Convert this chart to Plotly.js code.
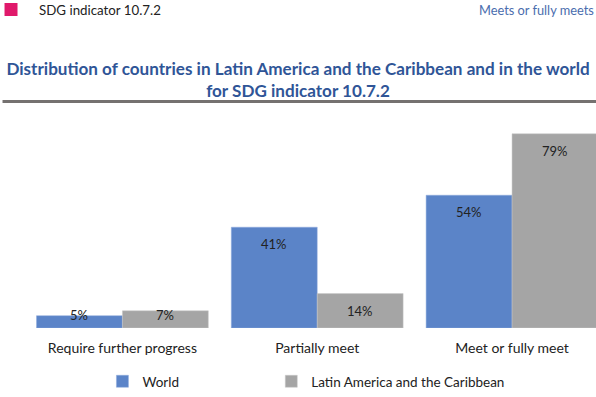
<!DOCTYPE html>
<html><head><meta charset="utf-8">
<script src="https://cdn.plot.ly/plotly-3.0.1.min.js"></script>
<style>html,body{margin:0;padding:0;background:#fff;}#chart{width:596px;height:397px;}</style>
</head><body><div id="chart"></div>
<script>
const categories = ["Require further progress", "Partially meet", "Meet or fully meet"];
const worldValues = [5, 41, 54];
const lacValues = [7, 14, 79];
const seriesNames = ["World", "Latin America and the Caribbean"];
const headerLeft = "SDG indicator 10.7.2";
const headerRight = "Meets or fully meets";
const titleText = "Distribution of countries in Latin America and the Caribbean and in the world<br>for SDG indicator 10.7.2";

const FONT = "Lato, 'Source Sans Pro', sans-serif";
const blue = "#5B84C8";
const gray = "#A5A5A5";

const traces = [
  {type: "bar", name: seriesNames[0], legend: "legend", x: categories, y: worldValues, marker: {color: blue, line: {color: "#8FAADC", width: 0.5}}, hoverinfo: "none"},
  {type: "bar", name: seriesNames[1], legend: "legend2", x: categories, y: lacValues, marker: {color: gray, line: {color: "#C9C9C9", width: 0.5}}, hoverinfo: "none"}
];

const plotL = 24.5, plotT = 119, plotB = 69;
const plotW = 596 - plotL, plotH = 397 - plotT - plotB;
const px = x => (x - plotL) / plotW;
const py = y => (397 - plotB - y) / plotH;

const off = 0.2205;
const annotations = [];
function lab(arr, sign) {
  arr.forEach((v, i) => {
    annotations.push({xref: "x", yref: "y", x: i + sign * off, y: Math.max(v - 6.9, 5.3), text: v + "%", showarrow: false,
      font: {family: FONT, size: 13, color: "#222"}, xanchor: "center", yanchor: "middle"});
  });
}
lab(worldValues, -1);
lab(lacValues, 1);
annotations.push({xref: "paper", yref: "paper", x: px(37), y: py(10), xanchor: "left", yanchor: "middle", showarrow: false, text: headerLeft, font: {family: FONT, size: 13.3, color: "#222"}});
annotations.push({xref: "paper", yref: "paper", x: px(596), y: py(10), xanchor: "right", yanchor: "middle", showarrow: false, text: headerRight, font: {family: FONT, size: 12.8, color: "#4A6DAE"}});

const legendFont = {family: FONT, size: 13.5, color: "#222"};
const layout = {
  width: 596, height: 397,
  margin: {l: plotL, r: 0, t: plotT, b: plotB},
  paper_bgcolor: "#fff", plot_bgcolor: "#fff",
  barmode: "group", bargap: 0.118, bargroupgap: 0,
  showlegend: true,
  legend: {orientation: "h", x: px(102), y: py(382), xanchor: "left", yanchor: "middle", font: legendFont, itemwidth: 30},
  legend2: {orientation: "h", x: px(271), y: py(382), xanchor: "left", yanchor: "middle", font: legendFont, itemwidth: 30},
  title: {text: titleText, x: 0.5, xanchor: "center", xref: "container", y: 1 - 75 / 397, yanchor: "middle", font: {family: FONT, size: 17.1, color: "#2F5597", weight: "bold"}},
  xaxis: {type: "category", range: [-0.5, 2.431], showgrid: false, zeroline: false, showline: false, ticks: "", ticklabelstandoff: 10, tickfont: {family: FONT, size: 14, color: "#222"}, fixedrange: true},
  yaxis: {range: [0, 85], visible: false, fixedrange: true},
  annotations: annotations,
  shapes: [
    {type: "rect", xref: "paper", yref: "paper", x0: px(4), x1: px(17), y0: py(16), y1: py(3), fillcolor: "#E0196B", line: {width: 0}},
    {type: "line", xref: "paper", yref: "paper", x0: px(2), x1: px(596), y0: py(101.5), y1: py(101.5), line: {color: "#757170", width: 3}}
  ]
};

Plotly.newPlot("chart", traces, layout, {displayModeBar: false, staticPlot: true});
</script></body></html>
